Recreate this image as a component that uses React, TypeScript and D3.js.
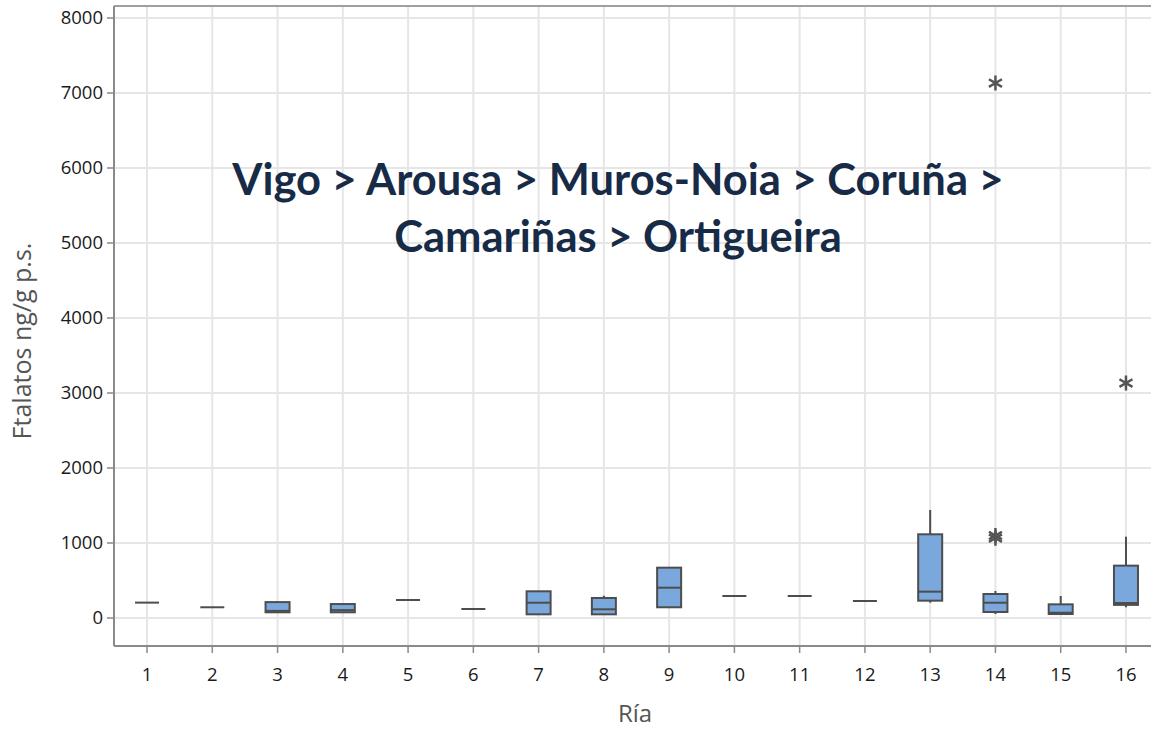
import React from 'react';
import * as d3 from 'd3';

const rias = [1, 2, 3, 4, 5, 6, 7, 8, 9, 10, 11, 12, 13, 14, 15, 16];
// [whiskerLow, q1, median, q3, whiskerHigh]
const boxStats = [
  [205, 205, 205, 205, 205],
  [143, 143, 143, 143, 143],
  [76, 76, 95, 212, 212],
  [76, 76, 105, 186, 186],
  [240, 240, 240, 240, 240],
  [120, 120, 120, 120, 120],
  [49, 49, 204, 356, 356],
  [49, 49, 116, 267, 297],
  [143, 143, 404, 671, 671],
  [293, 293, 293, 293, 293],
  [293, 293, 293, 293, 293],
  [227, 227, 227, 227, 227],
  [204, 231, 351, 1116, 1440],
  [53, 80, 204, 320, 360],
  [53, 53, 70, 182, 293],
  [143, 175, 200, 698, 1084],
];
const outliers = [
  { ria: 14, value: 7133 },
  { ria: 14, value: 1100 },
  { ria: 14, value: 1065 },
  { ria: 16, value: 3133 },
];
const yTicks = [0, 1000, 2000, 3000, 4000, 5000, 6000, 7000, 8000];
const titleLines = ['Vigo > Arousa > Muros-Noia > Coruña >', 'Camariñas > Ortigueira'];

const W = 1151;
const H = 731;
const left = 114;
const top = 6;
const bottom = 646;

const App = () => {
  const x = d3.scaleLinear().domain([0.5, 16.5]).range([114.4, 1158.6]);
  const y = d3.scaleLinear().domain([0, 8000]).range([618, 18]);
  const bw = 12;
  const star = d3.symbol().type(d3.symbolAsterisk).size(160);
  const font = "'Open Sans', sans-serif";
  const boxStroke = '#4d4d4d';

  return (
    <svg width={W} height={H} style={{ position: 'absolute', left: 0, top: 0, background: '#fff' }}>
      {/* grid */}
      {yTicks.map((t) => (
        <line key={'gy' + t} x1={left} x2={W} y1={y(t)} y2={y(t)} stroke="#e6e6e6" strokeWidth={2} />
      ))}
      {rias.map((r) => (
        <line key={'gx' + r} x1={x(r)} x2={x(r)} y1={top} y2={bottom} stroke="#e6e6e6" strokeWidth={2} />
      ))}

      {/* frame */}
      <line x1={left} x2={W} y1={top} y2={top} stroke="#a0a0a0" strokeWidth={2} />
      <line x1={left} x2={left} y1={top} y2={bottom} stroke="#8a8a8a" strokeWidth={2} />
      <line x1={left} x2={W} y1={bottom} y2={bottom} stroke="#8a8a8a" strokeWidth={2} />

      {/* y ticks */}
      {yTicks.map((t) => (
        <g key={'ty' + t}>
          <line x1={left - 7} x2={left} y1={y(t)} y2={y(t)} stroke="#8a8a8a" strokeWidth={1.5} />
          <text x={left - 11} y={y(t)} dy="0.35em" textAnchor="end" fontFamily={font} fontSize={18.5} fill="#1a1a1a">
            {t}
          </text>
        </g>
      ))}

      {/* x ticks */}
      {rias.map((r) => (
        <g key={'tx' + r}>
          <line x1={x(r)} x2={x(r)} y1={bottom} y2={bottom + 7} stroke="#8a8a8a" strokeWidth={1.5} />
          <text x={x(r)} y={bottom + 35} textAnchor="middle" fontFamily={font} fontSize={18.5} fill="#1a1a1a">
            {r}
          </text>
        </g>
      ))}

      {/* boxes */}
      {boxStats.map((s, i) => {
        const cx = x(rias[i]);
        const [lo, q1, med, q3, hi] = s;
        return (
          <g key={'b' + i}>
            <line x1={cx} x2={cx} y1={y(hi)} y2={y(q3)} stroke={boxStroke} strokeWidth={2} />
            <line x1={cx} x2={cx} y1={y(q1)} y2={y(lo)} stroke={boxStroke} strokeWidth={2} />
            <rect
              x={cx - bw}
              y={y(q3)}
              width={bw * 2}
              height={Math.max(0, y(q1) - y(q3))}
              fill="#7aa7dc"
              stroke={boxStroke}
              strokeWidth={2}
            />
            <line x1={cx - bw} x2={cx + bw} y1={y(med)} y2={y(med)} stroke={boxStroke} strokeWidth={2} />
          </g>
        );
      })}

      {/* outliers */}
      {outliers.map((o, i) => (
        <path
          key={'o' + i}
          d={star() as string}
          transform={`translate(${x(o.ria)},${y(o.value)})`}
          fill="none"
          stroke="#555"
          strokeWidth={2.5}
        />
      ))}

      {/* axis titles */}
      <text
        transform={`translate(31,341) rotate(-90)`}
        textAnchor="middle"
        fontFamily={font}
        fontSize={25}
        fill="#555"
      >
        Ftalatos ng/g p.s.
      </text>
      <text x={635} y={722} textAnchor="middle" fontFamily={font} fontSize={24} fill="#555">
        Ría
      </text>

      {/* annotation */}
      {titleLines.map((l, i) => (
        <text
          key={'t' + i}
          x={618}
          y={195 + i * 57}
          textAnchor="middle"
          fontFamily="Lato, sans-serif"
          fontWeight={700}
          fontSize={43.5}
          fill="#172b47"
        >
          {l}
        </text>
      ))}
    </svg>
  );
};

export default App;
